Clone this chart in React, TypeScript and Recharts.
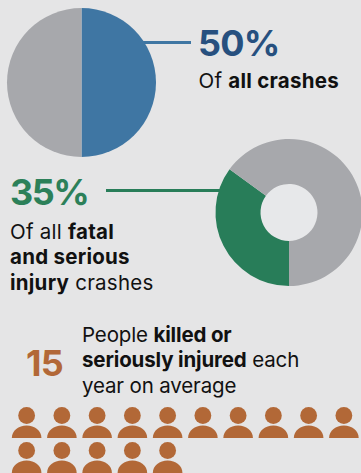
import React from 'react';
import { PieChart, Pie, Cell, ScatterChart, Scatter, XAxis, YAxis } from 'recharts';

const allCrashShares = [50, 50];
const allCrashColors = ['#3f76a3', '#a7a8ac'];
const fatalShares = [35, 65];
const fatalColors = ['#287d59', '#a7a8ac'];

const peopleCount = 15;
const peoplePerRow = 10;
const people = Array.from({ length: peopleCount }, (_, i) => ({
  col: (i % peoplePerRow) + 0.5,
  row: Math.floor(i / peoplePerRow) + 0.5,
}));

const font = 'Inter, sans-serif';

const Person = ({ cx, cy }: { cx?: number; cy?: number }) => (
  <g transform={`translate(${cx}, ${cy})`} fill="#b26837">
    <circle r={8.4} />
    <path d="M -14.8 22.6 C -14.8 15 -8 10 0 10 C 8 10 14.8 15 14.8 22.6 Z" />
  </g>
);

const Label = ({ x, y, style, children }: { x: number; y: number; style?: React.CSSProperties; children: React.ReactNode }) => (
  <div style={{ position: 'absolute', left: x, top: y, fontFamily: font, color: '#111', fontSize: 20.5, letterSpacing: 0.25, lineHeight: '25.3px', whiteSpace: 'nowrap', ...style }}>
    {children}
  </div>
);

const bigNumber: React.CSSProperties = { fontSize: 36, fontWeight: 700, lineHeight: '40px', letterSpacing: -0.8 };

export default function App() {
  return (
    <div style={{ position: 'absolute', left: 0, top: 0, width: 361, height: 473, overflow: 'hidden', background: '#e5e5e6' }}>
      <div style={{ position: 'absolute', left: 260, top: 184, width: 57, height: 57, borderRadius: '50%', background: '#e7e8ea' }} />
      <div style={{ position: 'absolute', left: 143, top: 41, width: 48, height: 2.5, background: '#3f76a3' }} />
      <div style={{ position: 'absolute', left: 106, top: 189, width: 115, height: 2.5, background: '#287d59' }} />

      <div style={{ position: 'absolute', left: 0, top: 0 }}>
        <PieChart width={361} height={300} margin={{ top: 0, right: 0, bottom: 0, left: 0 }}>
          <Pie data={allCrashShares.map((value) => ({ value }))} dataKey="value" cx={81.5} cy={82.5} innerRadius={0} outerRadius={74.5} startAngle={90} endAngle={-270} stroke="none" isAnimationActive={false}>
            {allCrashColors.map((color) => <Cell key={color} fill={color} />)}
          </Pie>
          <Pie data={fatalShares.map((value) => ({ value }))} dataKey="value" cx={289} cy={212.5} innerRadius={28.5} outerRadius={73.5} startAngle={270} endAngle={-90} stroke="none" isAnimationActive={false}>
            {fatalColors.map((color) => <Cell key={color} fill={color} />)}
          </Pie>
        </PieChart>
      </div>

      <Label x={198} y={23} style={{ ...bigNumber, color: '#27507f' }}>50%</Label>
      <Label x={198.5} y={68}>Of <b>all crashes</b></Label>

      <Label x={10} y={172} style={{ ...bigNumber, color: '#2c8059', letterSpacing: -1.5 }}>35%</Label>
      <Label x={10} y={219}>Of all <b>fatal</b><br /><b>and serious</b><br /><b>injury</b> crashes</Label>

      <Label x={26} y={343} style={{ ...bigNumber, color: '#b26837' }}>15</Label>
      <Label x={82} y={322} style={{ letterSpacing: -0.15 }}>People <b>killed or</b><br /><b>seriously injured</b> each<br />year on average</Label>

      <div style={{ position: 'absolute', left: 9, top: 398 }}>
        <ScatterChart width={352.5} height={75} margin={{ top: 0, right: 0, bottom: 0, left: 0 }}>
          <XAxis type="number" dataKey="col" domain={[0, peoplePerRow]} hide />
          <YAxis type="number" dataKey="row" domain={[0, 75 / 35]} reversed hide />
          <Scatter data={people} shape={<Person />} isAnimationActive={false} />
        </ScatterChart>
      </div>
    </div>
  );
}
